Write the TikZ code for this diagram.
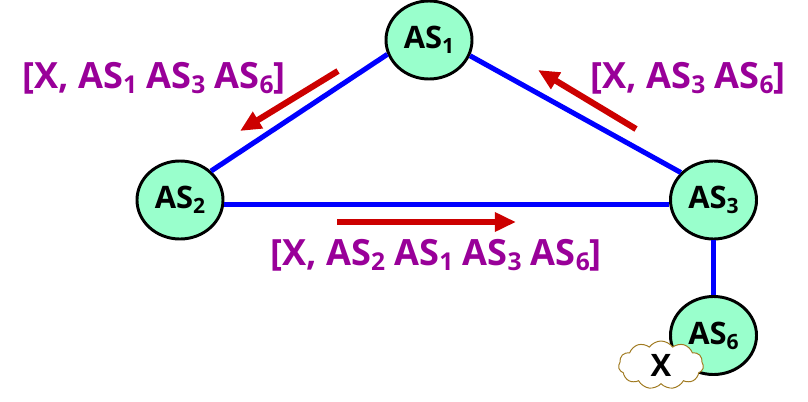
\documentclass[tikz,border=0pt]{standalone}
\usepackage{fontspec}
\setmainfont{Open Sans}
\usetikzlibrary{arrows.meta,shapes.geometric,shapes.symbols}
\definecolor{asgreen}{HTML}{99FFCC}
\definecolor{pathpurple}{HTML}{990099}
\definecolor{advred}{HTML}{CC0000}
\definecolor{cloudbrown}{HTML}{A07A20}
\newcommand{\asn}[1]{AS\raisebox{-0.3ex}{\scalebox{0.68}{#1}}}
\tikzset{
	asnode/.style={ellipse, draw=black, line width=2.1pt, fill=asgreen, minimum width=86*0.7113pt, minimum height=78*0.7113pt, inner sep=0pt, font=\fontsize{22}{26}\selectfont\bfseries},
	link/.style={draw=blue, line width=3.6pt},
	adv/.style={draw=advred, line width=4.4pt, -{Triangle[length=15pt, width=13pt]}},
	pathlabel/.style={text=pathpurple, inner sep=0pt, font=\fontsize{25.7}{30}\selectfont\bfseries}
}
\begin{document}
\begin{tikzpicture}[x=0.025cm, y=-0.025cm]
	\useasboundingbox (0,0) rectangle (808,401);

	\node[asnode] (as1) at (429,40) {\asn{1}};
	\node[asnode] (as2) at (180,200) {\asn{2}};
	\node[asnode] (as3) at (713.5,200) {\asn{3}};
	\node[asnode] (as6) at (713.5,335.5) {\asn{6}};

	\node[cloud, cloud puffs=11, cloud puff arc=110, aspect=1.9, draw=cloudbrown, line width=0.7pt, fill=white, minimum width=85*0.7113pt, minimum height=48*0.7113pt, inner sep=0pt, font=\fontsize{22}{26}\selectfont\bfseries] (x) at (661,365) {X};

	\draw[link] (as1.199.6) -- (as2.43.6);
	\draw[link] (as1.-21) -- (as3.140);
	\draw[link] (as2.-6) -- (as3.186);
	\draw[link] (as3.south) -- (as6.north);

	\coordinate (a1s) at (338,71);
	\coordinate (a1e) at (240,131);
	\coordinate (a2s) at (636,129);
	\coordinate (a2e) at (538,70);
	\coordinate (a3s) at (337,222);
	\coordinate (a3e) at (516,222);
	\draw[adv] (a1s) -- (a1e);
	\draw[adv] (a2s) -- (a2e);
	\draw[adv] (a3s) -- (a3e);

	\node[pathlabel] (lbl1) at (154,78) {[X, \asn{1} \asn{3} \asn{6}]};
	\node[pathlabel] (lbl2) at (688,78) {[X, \asn{3} \asn{6}]};
	\node[pathlabel] (lbl3) at (436,255) {[X, \asn{2} \asn{1} \asn{3} \asn{6}]};
\end{tikzpicture}
\end{document}
